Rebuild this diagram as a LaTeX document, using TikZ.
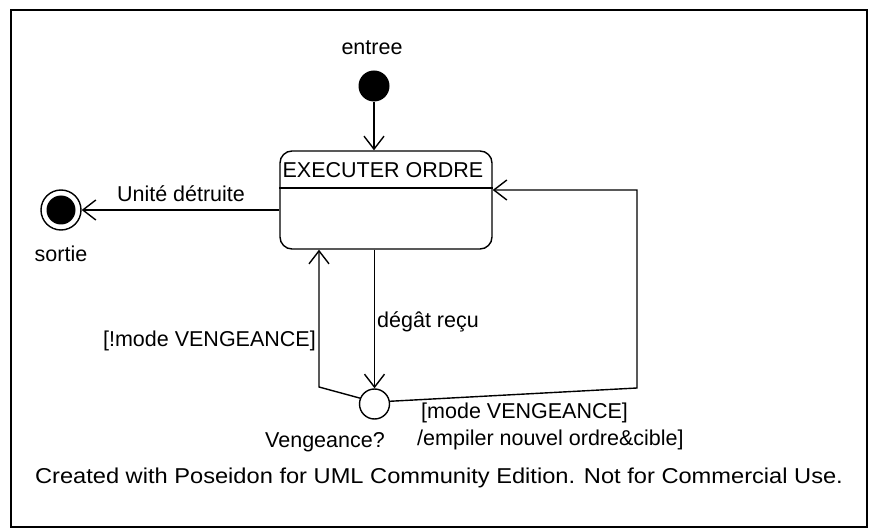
\documentclass[tikz,border=0pt]{standalone}
\usepackage{fontspec}
\setmainfont{Liberation Sans}
\usetikzlibrary{arrows.meta}
\begin{document}
\begin{tikzpicture}[x=1pt,y=-1pt,
  lbl/.style={font=\fontsize{21.5}{24}\selectfont, inner sep=0pt},
  tr/.style={line width=1.4pt, -{Straight Barb[length=13pt,width=20pt,line width=1.4pt]}},
  ln/.style={line width=1.4pt}]
\useasboundingbox (0,0) rectangle (870,529);
\fill[white] (0,0) rectangle (870,529);
\draw[line width=1.5pt] (11,10) rectangle (867,527);
% initial
\node[circle, fill=black, inner sep=0pt, minimum size=31pt] (init) at (374,86) {};
\node[lbl] (tinit) at (372,48) {entree};
% state
\node[draw, line width=1.4pt, rounded corners=12pt, minimum width=212pt, minimum height=98pt, inner sep=0pt] (state) at (386,200) {};
\coordinate (dv) at (0,188);
\draw[ln] (state.west |- dv) -- (state.east |- dv);
\node[lbl] (title) at (383,170) {EXECUTER ORDRE};
% final
\node[circle, draw, line width=1.4pt, inner sep=0pt, minimum size=40pt] (final) at (61,210) {};
\node[circle, fill=black, inner sep=0pt, minimum size=29pt] (finalin) at (final) {};
\node[lbl] (tfinal) at (61,254) {sortie};
% choice
\node[circle, draw, line width=1.4pt, inner sep=0pt, minimum size=30pt] (choice) at (374.5,404) {};
\node[lbl] (tchoice) at (325,442) {Vengeance?};
% transitions
\draw[tr] (init) -- (init |- state.north);
\draw[tr] (state.west |- final) -- (final);
\node[lbl] (tdest) at (181,194) {Unité détruite};
\draw[tr] (state.south -| choice) -- (choice);
\node[lbl, anchor=west] (tdeg) at (377,322) {dégât reçu};
\coordinate (c1) at (319,387);
\draw[tr] (choice.158) -- (c1) -- (c1 |- state.south);
\node[lbl, anchor=east] (tnot) at (316,341) {[!mode VENGEANCE]};
\coordinate (c2) at (637,388);
\coordinate (c3) at (637,190);
\draw[tr] (choice.10) -- (c2) -- (c3) -- (state.east |- c3);
\node[lbl, anchor=west] (tmode) at (421,413) {[mode VENGEANCE]};
\node[lbl, anchor=west] (temp) at (417,440) {/empiler nouvel ordre\&cible]};
\node[lbl] (credit) at (439,478) {\scalebox{1.1}[1]{Created with Poseidon for UML Community Edition. Not for Commercial Use.}};
\end{tikzpicture}
\end{document}
